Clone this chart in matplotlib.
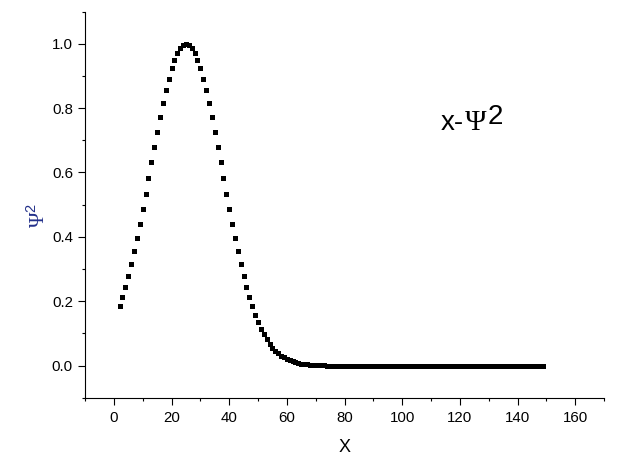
import numpy as np
import matplotlib
matplotlib.use("Agg")
import matplotlib.pyplot as plt
from matplotlib.ticker import MultipleLocator

plt.rcParams['font.family'] = ['Liberation Sans', 'DejaVu Sans']
plt.rcParams['mathtext.fontset'] = 'custom'
plt.rcParams['mathtext.rm'] = 'Liberation Serif'
plt.rcParams['mathtext.sf'] = 'Liberation Sans'

# sample positions (one point per unit of x)
x = np.arange(2, 150)

# psi^2 values, x = 2 ... 149
psi2 = [0.184, 0.212, 0.244, 0.278, 0.315, 0.355, 0.397, 0.441, 0.487, 0.534,
        0.582, 0.631, 0.679, 0.726, 0.772, 0.815, 0.855, 0.891, 0.923, 0.950,
        0.972, 0.987, 0.997, 1.000, 0.997, 0.987, 0.972, 0.950, 0.923, 0.891,
        0.855, 0.815, 0.772, 0.726, 0.679, 0.631, 0.582, 0.534, 0.487, 0.441,
        0.397, 0.355, 0.315, 0.278, 0.244, 0.212, 0.184, 0.158, 0.135, 0.115,
        0.097, 0.081, 0.068, 0.056, 0.046, 0.038, 0.031, 0.025, 0.020, 0.016,
        0.013, 0.010, 0.008, 0.006, 0.005, 0.004, 0.003, 0.002, 0.002, 0.001,
        0.001, 0.001, 0.000, 0.000,
        0.0, 0.0, 0.0, 0.0, 0.0, 0.0, 0.0, 0.0, 0.0, 0.0,
        0.0, 0.0, 0.0, 0.0, 0.0, 0.0, 0.0, 0.0, 0.0, 0.0,
        0.0, 0.0, 0.0, 0.0, 0.0, 0.0, 0.0, 0.0, 0.0, 0.0,
        0.0, 0.0, 0.0, 0.0, 0.0, 0.0, 0.0, 0.0, 0.0, 0.0,
        0.0, 0.0, 0.0, 0.0, 0.0, 0.0, 0.0, 0.0, 0.0, 0.0,
        0.0, 0.0, 0.0, 0.0, 0.0, 0.0, 0.0, 0.0, 0.0, 0.0,
        0.0, 0.0, 0.0, 0.0, 0.0, 0.0, 0.0, 0.0, 0.0, 0.0,
        0.0, 0.0, 0.0, 0.0]

fig = plt.figure(figsize=(6.32, 4.61), dpi=100)
ax = fig.add_axes([0.1345, 0.1373, 0.8212, 0.8377])

ax.plot(x, psi2, 's', color='black', ms=3.6, mew=0)

ax.set_xlim(-10, 170)
ax.set_ylim(-0.1, 1.1)
ax.xaxis.set_major_locator(MultipleLocator(20))
ax.xaxis.set_minor_locator(MultipleLocator(10))
ax.yaxis.set_major_locator(MultipleLocator(0.2))
ax.yaxis.set_minor_locator(MultipleLocator(0.1))
ax.yaxis.set_major_formatter(plt.FormatStrFormatter('%.1f'))

for s in ['top', 'right']:
    ax.spines[s].set_visible(False)
for s in ['left', 'bottom']:
    ax.spines[s].set_linewidth(0.8)

ax.tick_params(which='major', direction='out', length=4.7, width=0.8, labelsize=10.8)
ax.tick_params(which='minor', direction='out', length=2.4, width=0.8)
ax.tick_params(axis='x', which='major', pad=5)
ax.tick_params(axis='y', which='major', pad=4)

ax.set_xlabel('X', fontsize=13)
ax.xaxis.set_label_coords(0.501, -0.107)
ax.set_ylabel(r'$\Psi^{\mathsf{2}}$', fontsize=15, color='#23308a')
ax.yaxis.set_label_coords(-0.07, 0.473)

# x-Psi^2 label, Psi in a serif face like the original
fig.text(441 / 632, 1 - 130 / 461, 'x-', fontsize=20, ha='left', va='baseline')
fig.text(465 / 632, 1 - 130 / 461, '\u03a8', fontsize=21, family='Liberation Serif',
         ha='left', va='baseline')
fig.text(488 / 632, 1 - 124.3 / 461, '2', fontsize=20, ha='left', va='baseline')

fig.savefig('out.png', dpi=100)
